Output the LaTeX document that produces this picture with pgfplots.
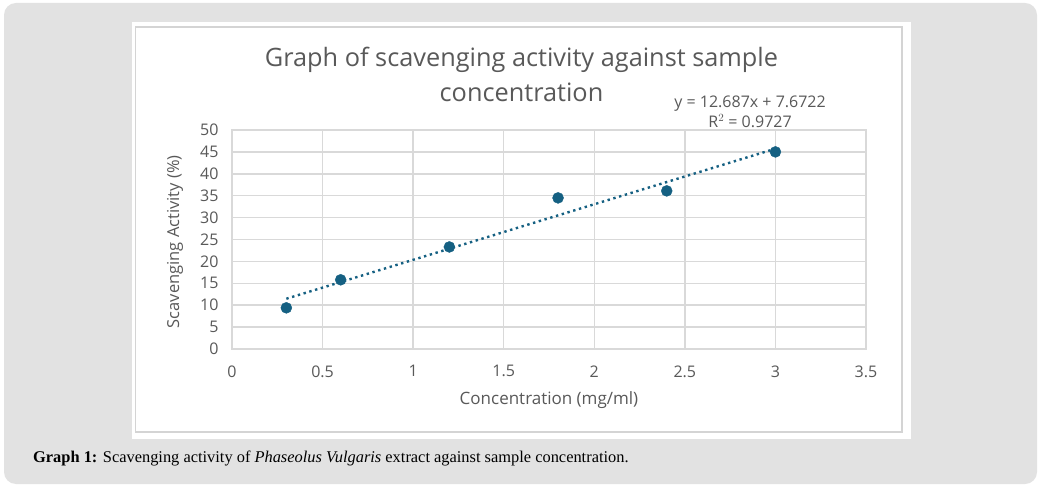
\documentclass[border=0pt]{standalone}
\usepackage{pgfplots}
\pgfplotsset{compat=1.18}
\usepackage{fontspec}
\setmainfont{Liberation Serif}
\newfontfamily\chartfont{Open Sans}

\definecolor{bggray}{HTML}{E2E2E2}
\definecolor{framegray}{HTML}{D4D4D4}
\definecolor{gridgray}{HTML}{D9D9D9}
\definecolor{textgray}{HTML}{595959}
\definecolor{ptblue}{HTML}{156082}

\begin{document}
\begin{tikzpicture}
  % page and panel
  \path[use as bounding box] (0pt,0pt) rectangle (1041pt,493pt);
  \fill[white] (0pt,0pt) rectangle (1041pt,493pt);
  \fill[bggray, rounded corners=12pt] (4pt,9pt) rectangle (1037pt,490pt);
  \fill[white] (132pt,54pt) rectangle (911pt,471pt);
  \draw[framegray, line width=1.2pt] (135.5pt,61pt) rectangle (902pt,466pt);
  %
  \begin{axis}[
    at={(232pt,144pt)}, anchor=south west,
    scale only axis,
    width=634pt, height=219pt,
    xmin=0, xmax=3.5,
    ymin=0, ymax=50,
    xtick={0,0.5,...,3.5},
    ytick={0,5,...,50},
    major tick length=0pt,
    grid=major,
    grid style={gridgray, line width=1.5pt},
    axis line style={gridgray, line width=1.5pt},
    clip=false,
    /pgf/number format/assume math mode=true,
    tick label style={font=\chartfont\fontsize{16}{19}\selectfont, text=textgray},
    xticklabel style={yshift=-13pt},
    yticklabel style={xshift=-10pt},
    xlabel={Concentration (mg/ml)},
    xlabel style={at={(axis description cs:0.5,-0.235)}, anchor=center,
      font=\chartfont\fontsize{17}{20}\selectfont, text=textgray},
    ylabel={Scavenging Activity (\%)},
    ylabel style={at={(axis description cs:-0.09,0.49)}, anchor=center,
      font=\chartfont\fontsize{16.5}{20}\selectfont, text=textgray},
    title={Graph of scavenging activity against sample\\concentration},
    title style={at={(axis description cs:0.4566,1.228)}, anchor=center,
      align=center, font=\chartfont\fontsize{25.3}{35}\selectfont, text=textgray},
  ]
    % linear trendline y = 12.687x + 7.6722
    \addplot[ptblue, line width=2.4pt, dash pattern=on 2.4pt off 3.6pt]
      coordinates {(0.3,11.478) (3.0,45.733)};
    \addplot[only marks, mark=*, mark size=5.5pt, ptblue, mark options={draw=ptblue, fill=ptblue}]
      coordinates {(0.3,9.4) (0.6,15.8) (1.2,23.3) (1.8,34.5) (2.4,36.1) (3.0,45.0)};
    \node[align=center, font=\chartfont\fontsize{16}{20}\selectfont, text=textgray]
      at (axis cs:2.86,54.2) {y = 12.687x + 7.6722\\R$^{2}$ = 0.9727};
  \end{axis}
  %
  \node[anchor=base west, font=\fontsize{16.4}{18}\selectfont, inner sep=0pt]
    at (33pt,31pt) {\textbf{Graph 1:} Scavenging activity of \textit{Phaseolus Vulgaris} extract against sample concentration.};
\end{tikzpicture}
\end{document}
